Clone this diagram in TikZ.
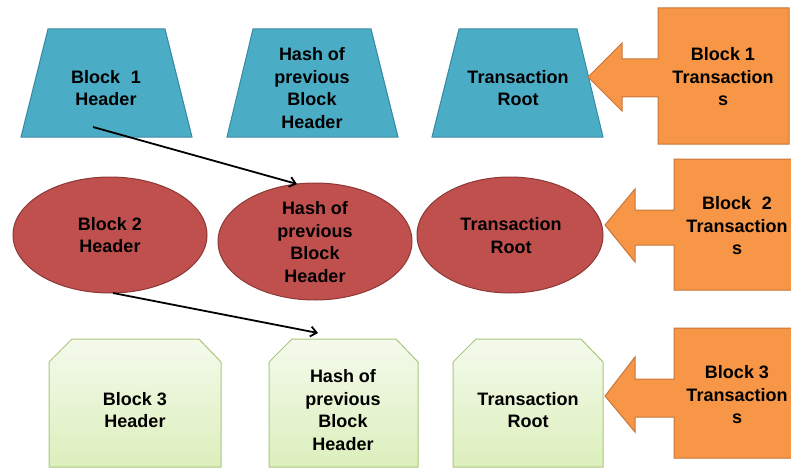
\documentclass[tikz,border=0pt]{standalone}
\usepackage{fontspec}
\setmainfont{Liberation Sans}
\usetikzlibrary{shapes.geometric,arrows.meta}
\definecolor{tealF}{HTML}{4BACC6}
\definecolor{tealD}{HTML}{3A8BA1}
\definecolor{redF}{HTML}{C0504D}
\definecolor{redD}{HTML}{8C3836}
\definecolor{orF}{HTML}{F79646}
\definecolor{orD}{HTML}{C8763A}
\definecolor{grD}{HTML}{A9C77A}
\definecolor{grT}{HTML}{F4FAEC}
\definecolor{grB}{HTML}{DCEFBC}
\tikzset{
  lbl/.style={align=center,font=\bfseries\fontsize{18}{22.5}\selectfont,inner sep=0pt},
  trap/.style={fill=tealF,draw=tealD,line width=1pt},
  ell/.style={ellipse,fill=redF,draw=redD,line width=1pt,inner sep=0pt},
  snip/.style={draw=grD,line width=1pt,top color=grT,bottom color=grB},
  callout/.style={fill=orF,draw=orD,line width=1pt},
  link/.style={line width=1.8pt,-{Straight Barb[length=6pt,width=10pt,line width=1.8pt]}}
}
\begin{document}
\begin{tikzpicture}[x=1pt,y=-1pt]
\useasboundingbox (0,0) rectangle (791,468);
% row 1: trapezoids
\draw[trap] (48,29) -- (165,29) -- (192,137) -- (21,137) -- cycle;
\draw[trap] (253,29) -- (371,29) -- (398,137) -- (227,137) -- cycle;
\draw[trap] (459,29) -- (577,29) -- (603,137) -- (432,137) -- cycle;
\node[lbl] (t1) at (106,88) {Block\hspace{0.6em}1\\Header};
\node[lbl] (t2) at (312,88) {Hash of\\previous\\Block\\Header};
\node[lbl] (t3) at (518,88) {Transaction\\Root};
% callout 1
\draw[callout] (789,8) -- (658,8) -- (658,59) -- (622,59) -- (622,43) -- (588,77)
  -- (622,111) -- (622,97) -- (658,97) -- (658,144) -- (789,144) -- cycle;
\node[lbl] (c1) at (723,77) {Block 1\\Transaction\\s};
% row 2: ellipses
\node[ell,minimum width=194pt,minimum height=116pt] (e1) at (110,235) {};
\node[ell,minimum width=194pt,minimum height=117pt] (e2) at (315,241.5) {};
\node[ell,minimum width=186pt,minimum height=116pt] (e3) at (510,235) {};
\node[lbl] (e1t) at (e1) {Block 2\\Header};
\node[lbl] (e2t) at (315,242) {Hash of\\previous\\Block\\Header};
\node[lbl] (e3t) at (511,235.5) {Transaction\\Root};
% callout 2
\draw[callout] (800,159) -- (674,159) -- (674,210) -- (635,210) -- (635,189) -- (605,225)
  -- (635,262) -- (635,245) -- (674,245) -- (674,290) -- (800,290) -- cycle;
\node[lbl] (c2) at (737,226) {Block\hspace{0.6em}2\\Transaction\\s};
% row 3: snipped rectangles
\draw[snip] (49,467) -- (49,362) -- (72,339) -- (199,339) -- (221,362) -- (221,467) -- cycle;
\draw[snip] (269,467) -- (269,362) -- (292,339) -- (396,339) -- (418,362) -- (418,467) -- cycle;
\draw[snip] (453,467) -- (453,362) -- (476,339) -- (581,339) -- (603,362) -- (603,467) -- cycle;
\node[lbl] (g1) at (135,410) {Block 3\\Header};
\node[lbl] (g2) at (343,410) {Hash of\\previous\\Block\\Header};
\node[lbl] (g3) at (528,410) {Transaction\\Root};
% callout 3
\draw[callout] (800,328) -- (674,328) -- (674,379) -- (635,379) -- (635,357) -- (605,396)
  -- (635,432) -- (635,417) -- (674,417) -- (674,458) -- (800,458) -- cycle;
\node[lbl] (c3) at (737,395) {Block 3\\Transaction\\s};
% connectors
\coordinate (a1s) at (93,127);
\coordinate (a1e) at (297,184);
\coordinate (a2s) at (113,293);
\coordinate (a2e) at (318,333);
\draw[link] (a1s) -- (a1e);
\draw[link] (a2s) -- (a2e);
\end{tikzpicture}
\end{document}
